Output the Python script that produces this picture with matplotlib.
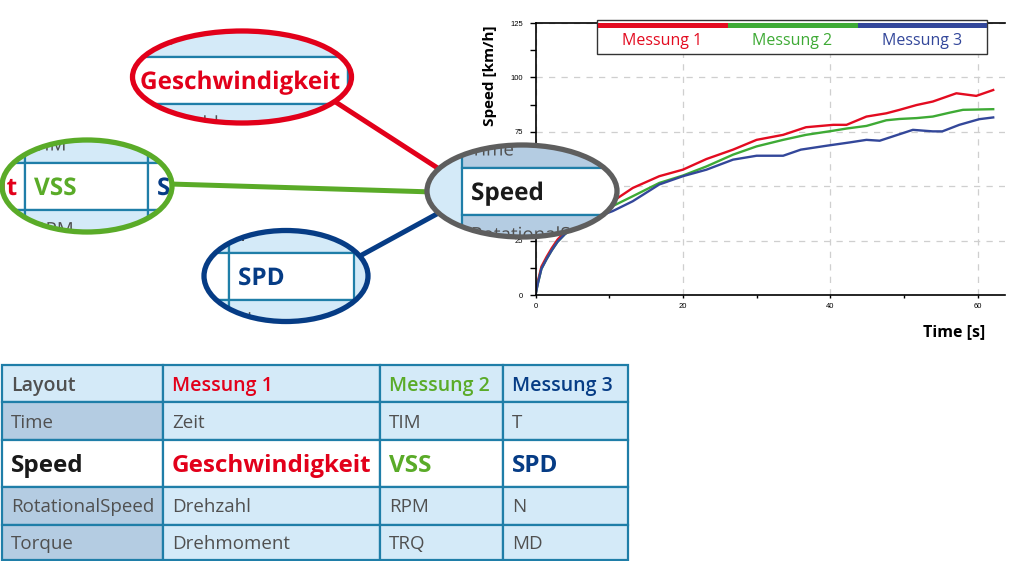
import numpy as np
import matplotlib
matplotlib.use('Agg')
import matplotlib.pyplot as plt
from matplotlib.patches import Ellipse, Rectangle, PathPatch
from matplotlib.textpath import TextPath
from matplotlib.font_manager import FontProperties
from matplotlib.transforms import Affine2D
from matplotlib.ticker import MultipleLocator

plt.rcParams['font.family'] = ['Open Sans', 'DejaVu Sans']

# --- data ---
t_m1 = [0, 0.3, 0.8, 1.5, 2.2, 3, 4, 5, 6, 7, 8, 9, 10.5, 13.2, 16.8, 20, 23.2, 26.8,
        30, 33.6, 36.7, 40.4, 42.2, 44.9, 47.6, 49.4, 51.7, 53.9, 57.1, 59.8, 62.1]
v_m1 = [0, 6, 13, 17.5, 21.5, 25.5, 29, 32, 34.5, 36.5, 38.5, 40.5, 43.1, 49.2, 54.6, 57.6,
        62.5, 66.8, 71.3, 73.6, 77.1, 78.2, 78.2, 82, 83.5, 85.1, 87.3, 88.9, 92.7, 91.5, 94.2]

t_m2 = [0, 0.3, 0.8, 1.5, 2.2, 3, 4, 5, 6, 7, 8, 9, 10.5, 13.2, 16.8, 20, 23.2, 26.8,
        30, 33.6, 36.7, 40.4, 42.2, 44.9, 47.6, 49.4, 51.7, 53.9, 56.2, 58, 62.1]
v_m2 = [0, 5, 12, 16.5, 20.5, 24.5, 28, 31, 33.5, 35.5, 37, 38.8, 40.9, 45.4, 51.5, 54.9,
        59.1, 64.5, 68.3, 71.3, 73.6, 75.5, 76.5, 77.7, 80.3, 80.9, 81.3, 82, 83.8, 85.1, 85.4]

t_m3 = [0, 0.3, 0.8, 1.5, 2.2, 3, 4, 5, 6, 7, 8, 8.7, 10.5, 13.2, 16.8, 20, 23.2, 26.8,
        30, 33.6, 36, 39.5, 42.6, 44.9, 46.7, 48.5, 51.2, 53.9, 55.2, 57.5, 60.2, 62.1]
v_m3 = [0, 5, 12, 16.5, 20.5, 24.5, 28, 30.5, 32.5, 34.3, 35.5, 36.3, 38.6, 43.1, 50.8, 54.6,
        57.6, 62.2, 64, 64, 66.8, 68.6, 70.1, 71.3, 70.9, 72.9, 75.9, 75.2, 75.2, 78.2, 80.8, 81.6]

series_names = ['Messung 1', 'Messung 2', 'Messung 3']
line_colors = ['#e30b20', '#3eaa35', '#33479a']

# table contents
table_header = ['Layout', 'Messung 1', 'Messung 2', 'Messung 3']
table_rows = [
    ['Time', 'Zeit', 'TIM', 'T'],
    ['Speed', 'Geschwindigkeit', 'VSS', 'SPD'],
    ['RotationalSpeed', 'Drehzahl', 'RPM', 'N'],
    ['Torque', 'Drehmoment', 'TRQ', 'MD'],
]

# --- style ---
RED = '#e2001a'
GREEN = '#5aab28'
BLUE = '#063c85'
GREY_TXT = '#505050'
LIGHT = '#d4eaf8'
DARK = '#b4cce2'
BORDER = '#1f7ea8'
col_colors = [GREY_TXT, RED, GREEN, BLUE]

TAB_X = [2, 163, 380, 503, 628]
TAB_Y = [365, 402, 439.5, 487, 524.5, 560]
PX = 100 / 72  # pixels per point

fig = plt.figure(figsize=(10.24, 5.61), dpi=100)

# --- the line chart ---
W, H = 1024, 561
ax_l, ax_r, ax_t, ax_b = 535.5, 1005, 23, 295
ax = fig.add_axes([ax_l / W, (H - ax_b) / H, (ax_r - ax_l) / W, (ax_b - ax_t) / H], zorder=1)
for t, v, c in zip([t_m1, t_m2, t_m3], [v_m1, v_m2, v_m3], line_colors):
    ax.plot(t, v, color=c, lw=1.7, solid_joinstyle='round')
ax.set_xlim(0, 63.7)
ax.set_ylim(0, 125)
ax.xaxis.set_major_locator(MultipleLocator(20))
ax.xaxis.set_minor_locator(MultipleLocator(10))
ax.yaxis.set_major_locator(MultipleLocator(25))
ax.yaxis.set_minor_locator(MultipleLocator(12.5))
ax.tick_params(which='both', direction='out', width=1, labelsize=5.5, color='black')
ax.tick_params(axis='y', which='both', length=4, pad=5)
ax.tick_params(axis='x', which='both', length=2.5, pad=3)
for lab in ax.get_xticklabels() + ax.get_yticklabels():
    lab.set_family('Liberation Sans')
ax.grid(True, which='major', ls=(0, (5, 5)), color='#cfcfcf', lw=0.9)
ax.spines['right'].set_visible(False)
for s in ['left', 'bottom', 'top']:
    ax.spines[s].set_linewidth(1.2)
ax.set_ylabel('Speed [km/h]', fontsize=11, fontweight='bold', va='center')
ax.yaxis.set_label_coords((490 - ax_l) / (ax_r - ax_l), (ax_b - 76) / (ax_b - ax_t))
ax.set_xlabel('Time [s]', fontsize=11.5, fontweight='bold', ha='right', va='center')
ax.xaxis.set_label_coords((985 - ax_l) / (ax_r - ax_l), (ax_b - 332) / (ax_b - ax_t))

# --- overlay in pixel coordinates ---
ov = fig.add_axes([0, 0, 1, 1], zorder=5)
ov.set_xlim(0, W)
ov.set_ylim(H, 0)
ov.axis('off')
ov.patch.set_alpha(0)

# legend box on top of the chart
lg_l, lg_r, lg_t, lg_b = 597, 987, 19.5, 54
ov.add_patch(Rectangle((lg_l, lg_t), lg_r - lg_l, lg_b - lg_t, fc='white', ec='#333333', lw=1, zorder=3))
seg = (lg_r - lg_l) / 3
for i, (name, c) in enumerate(zip(series_names, line_colors)):
    ov.add_patch(Rectangle((lg_l + 0.5 + i * seg, lg_t + 3), seg - (1 if i == 2 else 0), 5.5,
                           fc=c, ec='none', zorder=4))
    ov.text(lg_l + (i + 0.5) * seg, 41, name, color=c, fontsize=11.5, ha='center', va='center', zorder=4)


def cell_style(r, c):
    if r == 0:
        return col_colors[c], 14, 'semibold'
    if r == 2:
        return ('#1a1a1a' if c == 0 else col_colors[c]), 17.5, 'bold'
    return GREY_TXT, 13.5, 'normal'


def draw_table(a, dx=0, dy=0, clip=None):
    # text inside a lens is drawn as a path, because Agg does not clip text to an ellipse
    for r in range(5):
        cells = table_header if r == 0 else table_rows[r - 1]
        y0, y1 = TAB_Y[r] + dy, TAB_Y[r + 1] + dy
        for c in range(4):
            x0, x1 = TAB_X[c] + dx, TAB_X[c + 1] + dx
            if r == 2:
                fc = 'white'
            elif c == 0 and r > 0:
                fc = DARK
            else:
                fc = LIGHT
            rect = a.add_patch(Rectangle((x0, y0), x1 - x0, y1 - y0, fc=fc, ec=BORDER,
                                         lw=1.6, zorder=6))
            color, size, weight = cell_style(r, c)
            base = (y0 + y1) / 2 + 0.36 * size * PX
            if clip is None:
                a.text(x0 + 9, base, cells[c], ha='left', va='baseline', color=color,
                       fontsize=size, fontweight=weight, zorder=7)
            else:
                rect.set_clip_path(clip)
                tp = TextPath((0, 0), cells[c], size=size,
                              prop=FontProperties(family='Open Sans', weight=weight))
                tr = Affine2D().scale(PX, -PX).translate(x0 + 9, base) + a.transData
                p = a.add_patch(PathPatch(tp, fc=color, ec='none', lw=0, transform=tr, zorder=7))
                p.set_clip_path(clip)


draw_table(ov)

# connector lines (pixel coordinates)
ov.plot([300, 460], [79, 182.5], color=RED, lw=3.6, zorder=4, solid_capstyle='butt')
ov.plot([150, 460], [183.4, 192.8], color=GREEN, lw=3.6, zorder=4, solid_capstyle='butt')
ov.plot([340, 460], [266.9, 201.3], color=BLUE, lw=3.6, zorder=4, solid_capstyle='butt')

# magnifier ellipses: (cx, cy, w, h, colour, table offset)
lenses = [
    (242, 77, 219, 92, RED, -32, -383),
    (87, 186, 170, 92, GREEN, -355, -277),
    (286, 276, 164, 91, BLUE, -274, -187),
    (522, 191, 190, 92, '#5e5e5e', 460, -272),
]
for cx, cy, w, h, ec, dx, dy in lenses:
    ov.add_patch(Ellipse((cx, cy), w, h, fc=LIGHT, ec='none', zorder=5))
    clip = Ellipse((cx, cy), w, h, transform=ov.transData)
    draw_table(ov, dx, dy, clip)
    ov.add_patch(Ellipse((cx, cy), w, h, fc='none', ec=ec, lw=3.8, zorder=8))

fig.savefig('out.png', dpi=100)
